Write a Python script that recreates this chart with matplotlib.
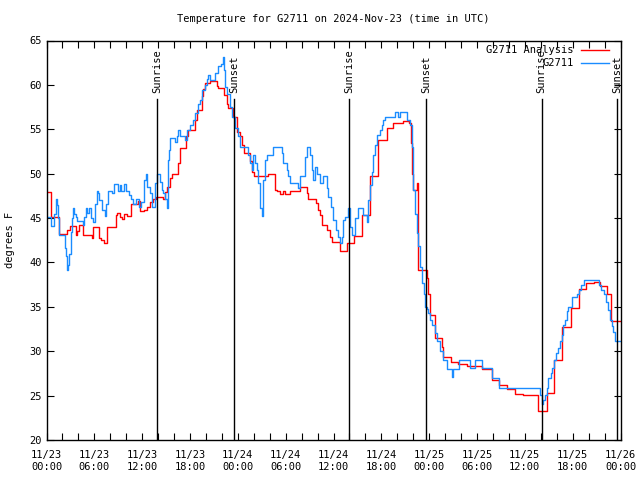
"""Temperature for G2711: observed vs analysis, with sunrise/sunset markers."""

import matplotlib

matplotlib.use("Agg")
import matplotlib.dates as mdates
import matplotlib.pyplot as plt
import pandas as pd
from matplotlib.lines import Line2D

START = pd.Timestamp("2024-11-23 00:00")

# hours since START, degrees F (step series)
analysis_hours = [
    0.0, 0.6, 1.6, 2.6, 2.95, 3.66, 3.87, 4.08, 4.58, 5.67, 5.88, 6.59, 6.88, 7.22,
    7.64, 8.68, 8.89, 9.23, 9.52, 9.73, 10.06, 10.65, 11.49, 11.69, 12.24, 12.66,
    12.99, 13.41, 13.74, 14.66, 14.87, 15.08, 15.5, 15.71, 16.54, 16.75, 17.46,
    17.72, 18.64, 18.85, 19.47, 19.68, 19.89, 20.52, 21.36, 21.56, 22.32, 22.61,
    22.82, 23.45, 23.87, 24.28, 24.58, 24.83, 25.53, 25.74, 26.07, 27.75, 28.67,
    28.87, 29.29, 29.71, 29.92, 30.55, 31.8, 32.64, 32.85, 33.77, 34.1, 34.31,
    34.61, 35.15, 35.57, 35.78, 36.82, 37.66, 38.62, 39.63, 40.59, 41.64, 42.68,
    43.52, 44.77, 45.53, 45.7, 45.82, 45.95, 46.03, 46.45, 46.66, 47.7, 47.91,
    48.12, 48.75, 49.67, 49.79, 50.75, 51.67, 52.72, 54.6, 55.86, 56.7, 57.74,
    58.79, 59.83, 61.63, 62.75, 63.71, 64.72, 65.76, 66.81, 67.69, 68.69, 69.45,
    70.28, 70.79, 71.95,
]
analysis_temp = [
    47.9, 45.1, 43.2, 43.6, 44.1, 43.1, 43.5, 44.2, 43.1, 42.7, 44.0, 42.8, 42.5, 42.2,
    44.0, 45.3, 45.6, 45.1, 44.9, 45.5, 45.2, 46.6, 46.9, 45.8, 45.9, 46.3,
    46.8, 47.1, 47.4, 47.2, 47.9, 48.5, 49.5, 50.0, 51.2, 52.9, 54.2,
    54.9, 56.0, 57.2, 58.7, 59.5, 60.2, 60.4, 59.9, 59.6, 58.9, 57.9,
    57.4, 56.4, 54.7, 54.2, 53.2, 52.3, 51.4, 50.2, 49.7, 50.0, 48.2,
    48.0, 47.7, 48.1, 47.7, 48.0, 48.5, 47.8, 47.2, 46.7, 45.9, 45.4,
    44.2, 43.7, 42.9, 42.3, 41.3, 42.2, 43.0, 45.3, 49.7, 53.8, 55.1,
    55.7, 55.9, 55.7, 53.4, 50.0, 49.3, 48.2, 48.9, 39.2, 38.2, 36.5,
    34.1, 31.5, 30.5, 29.4, 28.8, 28.6, 28.3, 28.0, 26.8, 26.2, 25.8,
    25.2, 25.1, 23.3, 25.3, 29.0, 32.7, 34.9, 37.0, 37.7, 37.8, 37.3,
    36.5, 33.4, 33.4,
]

obs_hours = [
    0.0, 0.52, 0.94, 1.15, 1.36, 1.44, 1.61, 2.28, 2.45, 2.62, 2.7, 2.87, 3.03, 3.24,
    3.37, 3.45, 3.66, 3.87, 4.58, 4.71, 4.92, 5.13, 5.33, 5.54, 5.88, 6.09, 6.3,
    6.46, 6.59, 7.01, 7.3, 7.51, 7.72, 8.26, 8.47, 8.97, 9.23, 9.39, 9.73, 9.94,
    10.36, 10.65, 10.9, 11.19, 11.61, 11.82, 12.24, 12.45, 12.66, 12.99, 13.28,
    13.62, 13.82, 14.24, 14.45, 14.66, 14.87, 15.08, 15.2, 15.37, 15.5, 16.13,
    16.33, 16.54, 16.75, 17.38, 17.59, 18.01, 18.43, 18.64, 19.05, 19.26, 19.47,
    19.89, 20.1, 20.31, 20.52, 21.15, 21.56, 21.9, 22.11, 22.28, 22.4, 22.61,
    23.03, 23.32, 23.66, 23.99, 24.28, 24.9, 25.32, 25.53, 25.74, 25.95, 26.16,
    26.36, 26.57, 26.78, 26.99, 27.2, 27.41, 27.62, 28.46, 29.5, 29.71, 30.13,
    30.34, 30.55, 31.59, 31.8, 32.43, 32.64, 33.06, 33.27, 33.48, 33.69, 33.9,
    34.31, 34.73, 35.15, 35.36, 35.7, 35.99, 36.28, 36.62, 36.82, 37.03, 37.24,
    37.45, 37.87, 38.08, 38.29, 38.71, 39.13, 39.75, 40.17, 40.38, 40.59, 40.8,
    41.01, 41.22, 41.43, 41.85, 42.05, 42.26, 42.47, 43.73, 44.15, 44.36, 45.19,
    45.61, 45.82, 46.03, 46.24, 46.45, 46.66, 46.87, 47.08, 47.29, 47.49, 47.7,
    47.91, 48.12, 48.33, 48.75, 48.95, 49.37, 49.79, 50.21, 50.82, 51.05, 51.76,
    53.14, 53.77, 54.6, 55.86, 56.7, 61.92, 62.13, 62.34, 62.54, 62.75, 62.96,
    63.25, 63.46, 63.67, 63.92, 64.22, 64.43, 64.63, 64.84, 65.05, 65.26, 65.47,
    65.97, 66.52, 66.81, 67.02, 67.48, 69.36, 69.57, 69.95, 70.2, 70.49, 70.7,
    70.91, 71.12, 71.33, 71.95,
]
obs_temp = [
    45.1, 44.1, 45.5, 47.1, 46.5, 45.0, 43.1, 41.6, 40.7, 39.1, 39.7, 41.0, 43.4, 45.0,
    46.1, 45.5, 45.1, 44.7, 44.2, 45.1, 46.1, 45.6, 46.1, 45.0, 44.6, 46.6, 48.1,
    47.8, 47.0, 45.9, 45.2, 46.6, 48.1, 47.8, 48.8, 48.1, 48.7, 48.1, 48.8, 48.1,
    47.6, 47.1, 46.6, 47.1, 46.3, 46.8, 49.3, 50.0, 48.5, 47.8, 46.3,
    48.9, 50.0, 49.1, 48.2, 47.8, 47.2, 46.1, 51.5, 52.7, 54.0, 53.6,
    54.2, 54.9, 54.2, 53.8, 54.9, 55.5, 56.0, 56.8, 57.9, 58.3, 59.4,
    60.0, 60.7, 61.1, 60.6, 61.3, 62.1, 62.4, 63.1, 61.7, 59.8, 59.0,
    57.5, 56.4, 55.1, 54.2, 53.0, 53.0, 52.1, 51.2, 50.4, 52.1, 51.2,
    50.4, 48.9, 46.1, 45.2, 49.3, 51.5, 52.1, 53.0, 52.3, 51.2, 50.4,
    49.7, 49.0, 48.4, 49.7, 51.9, 53.0, 52.1, 50.4, 49.3, 50.8, 50.0,
    48.9, 49.7, 48.4, 47.4, 46.3, 44.8, 43.7, 42.9, 42.2, 42.9, 44.8,
    45.1, 46.1, 44.0, 43.1, 45.0, 46.1, 45.35, 44.6, 47.0, 48.7, 50.2,
    52.1, 53.2, 54.4, 54.9, 55.5, 56.0, 56.4, 57.0, 56.4, 57.0, 56.0,
    55.5, 53.0, 48.2, 45.5, 43.3, 41.8, 39.5, 37.7, 36.5, 35.0, 34.8,
    34.3, 33.5, 33.0, 32.0, 31.1, 30.0, 29.0, 28.0, 27.1, 28.0, 29.0,
    28.1, 29.0, 28.1, 27.0, 25.9, 25.1, 24.1, 24.5, 25.1, 25.9, 27.0,
    27.5, 28.1, 29.0, 29.8, 30.4, 31.1, 31.8, 33.0, 33.5, 34.5, 35.0,
    36.1, 36.5, 36.9, 37.5, 38.0, 37.5, 36.9, 36.5, 35.6, 34.6, 33.5,
    32.8, 32.2, 31.1, 31.1,
]

sun_hours = [13.9, 23.57, 38.0, 47.65, 62.1, 71.6]
sun_labels = ["Sunrise", "Sunset", "Sunrise", "Sunset", "Sunrise", "Sunset"]

y_ticks = [20, 25, 30, 35, 40, 45, 50, 55, 60, 65]

RED = "#ff0000"
BLUE = "#1a8cff"
FONT = "DejaVu Sans Mono"
FS = 7.5


def to_time(hours):
    return START + pd.to_timedelta(hours, unit="h")


def main() -> None:
    plt.rcParams["font.family"] = FONT
    fig = plt.figure(figsize=(6.4, 4.8), dpi=100)
    ax = fig.add_axes([46.5 / 640, 40 / 480, 574 / 640, 399.5 / 480])

    ax.step(to_time(analysis_hours), analysis_temp, where="post", color=RED, lw=1.0)
    ax.step(to_time(obs_hours), obs_temp, where="post", color=BLUE, lw=1.0)

    for h, label in zip(sun_hours, sun_labels):
        t = to_time(h)
        ax.plot([t, t], [20, 58.4], color="black", lw=1.0)
        ax.text(t, 59.1, label, rotation=90, ha="center", va="bottom", fontsize=FS)

    ax.set_xlim(START, START + pd.Timedelta(hours=72))
    ax.set_ylim(20, 65)
    ax.set_yticks(y_ticks)
    ax.xaxis.set_major_locator(mdates.HourLocator(byhour=[0, 6, 12, 18]))
    ax.xaxis.set_minor_locator(mdates.HourLocator(interval=2))
    ax.xaxis.set_major_formatter(mdates.DateFormatter("%m/%d\n%H:%M"))
    ax.tick_params(which="both", direction="in", top=True, right=True,
                   length=5, width=0.8, labelsize=FS)
    ax.tick_params(axis="x", pad=7)
    for lbl in ax.get_xticklabels():
        lbl.set_linespacing(1.3)
    for spine in ax.spines.values():
        spine.set_linewidth(1.0)

    fig.text(333.5 / 640, 1 - 19 / 480, "Temperature for G2711 on 2024-Nov-23 (time in UTC)",
             ha="center", va="center", fontsize=FS)
    fig.text(10 / 640, 0.5, "degrees F", rotation=90, ha="center", va="center", fontsize=FS)

    # legend drawn by hand so labels are right-aligned like gnuplot
    for row, (label, color) in enumerate([("G2711 Analysis", RED), ("G2711", BLUE)]):
        y = 1 - (50 + row * 12.7) / 480
        fig.text(574 / 640, y, label, ha="right", va="center", fontsize=FS)
        fig.add_artist(Line2D([581 / 640, 609 / 640], [y, y], color=color, lw=1.0))

    fig.savefig("out.png", dpi=100)
    plt.close(fig)


if __name__ == "__main__":
    main()
